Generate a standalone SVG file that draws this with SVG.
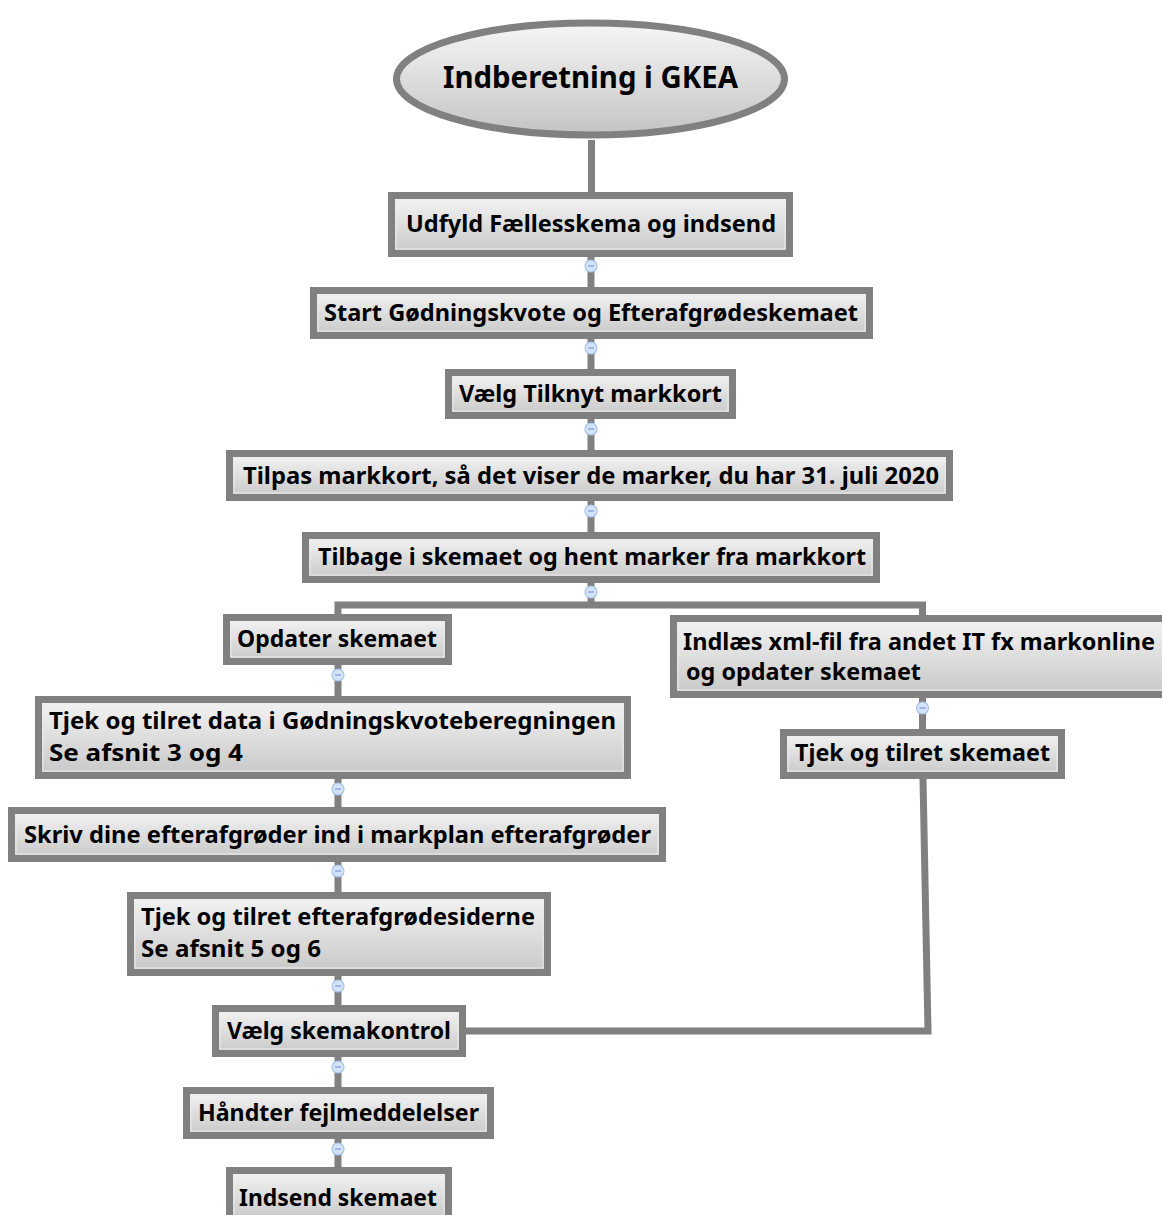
<svg xmlns="http://www.w3.org/2000/svg" width="1162" height="1215" viewBox="0 0 1162 1215">
<defs>
<linearGradient id="g" x1="0" y1="0" x2="0" y2="1">
<stop offset="0" stop-color="#f4f4f4"/>
<stop offset="1" stop-color="#c8c8c8"/>
</linearGradient>
<linearGradient id="ge" x1="0" y1="0" x2="0" y2="1">
<stop offset="0" stop-color="#f6f6f6"/>
<stop offset="1" stop-color="#c4c4c4"/>
</linearGradient>
</defs>
<style>
.box{fill:url(#g);stroke:#808080;stroke-width:7}
.in{fill:none;stroke:#ececec;stroke-width:1}
.t{font-family:"Noto Sans","Open Sans","Liberation Sans",sans-serif;font-weight:bold;font-size:24px;fill:#000}
.c{fill:none;stroke:#808080;stroke-width:7}
.ic{fill:#d3e3fa;stroke:#a9c3ec;stroke-width:1.2}
.icm{stroke:#7f9bd0;stroke-width:1.2}
</style>
<rect width="1162" height="1215" fill="#ffffff"/>
<g id="connectors">
<line class="c" x1="591.5" y1="140" x2="591.5" y2="192"/>
<line class="c" x1="591" y1="257" x2="591" y2="287"/>
<line class="c" x1="591" y1="339" x2="591" y2="369"/>
<line class="c" x1="591" y1="419" x2="591" y2="450"/>
<line class="c" x1="591" y1="501" x2="591" y2="532"/>
<polyline class="c" points="591,583 591,605"/>
<polyline class="c" points="338,614 338,605 922.5,605 922.5,615"/>
<line class="c" x1="338" y1="665" x2="338" y2="696"/>
<line class="c" x1="922.5" y1="698" x2="922.5" y2="729"/>
<line class="c" x1="338" y1="779" x2="338" y2="807"/>
<line class="c" x1="338" y1="862" x2="338" y2="892"/>
<line class="c" x1="338" y1="976" x2="338" y2="1005"/>
<polyline class="c" points="923,779 928,1031 466,1031"/>
<line class="c" x1="338" y1="1057" x2="338" y2="1087"/>
<line class="c" x1="338" y1="1139" x2="338" y2="1167"/>
<g id="icons">
<g><circle class="ic" cx="591" cy="266" r="6"/><line class="icm" x1="588" y1="266" x2="594" y2="266"/></g>
<g><circle class="ic" cx="591" cy="348" r="6"/><line class="icm" x1="588" y1="348" x2="594" y2="348"/></g>
<g><circle class="ic" cx="591" cy="429" r="6"/><line class="icm" x1="588" y1="429" x2="594" y2="429"/></g>
<g><circle class="ic" cx="591" cy="511" r="6"/><line class="icm" x1="588" y1="511" x2="594" y2="511"/></g>
<g><circle class="ic" cx="591" cy="592" r="6"/><line class="icm" x1="588" y1="592" x2="594" y2="592"/></g>
<g><circle class="ic" cx="338" cy="675" r="6"/><line class="icm" x1="335" y1="675" x2="341" y2="675"/></g>
<g><circle class="ic" cx="922.5" cy="708" r="6"/><line class="icm" x1="919.5" y1="708" x2="925.5" y2="708"/></g>
<g><circle class="ic" cx="338" cy="789" r="6"/><line class="icm" x1="335" y1="789" x2="341" y2="789"/></g>
<g><circle class="ic" cx="338" cy="871" r="6"/><line class="icm" x1="335" y1="871" x2="341" y2="871"/></g>
<g><circle class="ic" cx="338" cy="986" r="6"/><line class="icm" x1="335" y1="986" x2="341" y2="986"/></g>
<g><circle class="ic" cx="338" cy="1067" r="6"/><line class="icm" x1="335" y1="1067" x2="341" y2="1067"/></g>
<g><circle class="ic" cx="338" cy="1149" r="6"/><line class="icm" x1="335" y1="1149" x2="341" y2="1149"/></g>
</g>
</g>
<g id="n0">
<ellipse cx="590.5" cy="79" rx="194" ry="56" fill="url(#ge)" stroke="#808080" stroke-width="7"/>
<text class="t" x="443" y="88" style="font-size:30px" textLength="295" lengthAdjust="spacingAndGlyphs">Indberetning i GKEA</text>
</g>
<g id="n1">
<rect class="box" x="391.5" y="195.5" width="398" height="58"/>
<rect class="in" x="396" y="200" width="389" height="49"/>
<text class="t" x="406" y="232" textLength="370" lengthAdjust="spacingAndGlyphs">Udfyld Fællesskema og indsend</text>
</g>
<g id="n2">
<rect class="box" x="313.5" y="290.5" width="556" height="45"/>
<rect class="in" x="318" y="295" width="547" height="36"/>
<text class="t" x="324" y="321" textLength="534" lengthAdjust="spacingAndGlyphs">Start Gødningskvote og Efterafgrødeskemaet</text>
</g>
<g id="n3">
<rect class="box" x="448.5" y="372.5" width="284" height="43"/>
<rect class="in" x="453" y="377" width="275" height="34"/>
<text class="t" x="459" y="402" textLength="263" lengthAdjust="spacingAndGlyphs">Vælg Tilknyt markkort</text>
</g>
<g id="n4">
<rect class="box" x="229.5" y="453.5" width="720" height="44"/>
<rect class="in" x="234" y="458" width="711" height="35"/>
<text class="t" x="243" y="484" textLength="696" lengthAdjust="spacingAndGlyphs">Tilpas markkort, så det viser de marker, du har 31. juli 2020</text>
</g>
<g id="n5">
<rect class="box" x="305.5" y="535.5" width="571" height="44"/>
<rect class="in" x="310" y="540" width="562" height="35"/>
<text class="t" x="318" y="565" textLength="548" lengthAdjust="spacingAndGlyphs">Tilbage i skemaet og hent marker fra markkort</text>
</g>
<g id="n6">
<rect class="box" x="226.5" y="617.5" width="222" height="44"/>
<rect class="in" x="231" y="622" width="213" height="35"/>
<text class="t" x="237" y="647" textLength="200" lengthAdjust="spacingAndGlyphs">Opdater skemaet</text>
</g>
<g id="n7">
<rect class="box" x="673.5" y="618.5" width="494" height="76"/>
<rect class="in" x="678" y="623" width="485" height="67"/>
<text class="t" x="683" y="650" textLength="472" lengthAdjust="spacingAndGlyphs">Indlæs xml-fil fra andet IT fx markonline</text>
<text class="t" x="686" y="680" textLength="235" lengthAdjust="spacingAndGlyphs">og opdater skemaet</text>
</g>
<g id="n8">
<rect class="box" x="783.5" y="732.5" width="278" height="43"/>
<rect class="in" x="788" y="737" width="269" height="34"/>
<text class="t" x="795" y="761" textLength="255" lengthAdjust="spacingAndGlyphs">Tjek og tilret skemaet</text>
</g>
<g id="n9">
<rect class="box" x="38.5" y="699.5" width="589" height="76"/>
<rect class="in" x="43" y="704" width="580" height="67"/>
<text class="t" x="49" y="729" textLength="567" lengthAdjust="spacingAndGlyphs">Tjek og tilret data i Gødningskvoteberegningen</text>
<text class="t" x="49" y="761" textLength="194" lengthAdjust="spacingAndGlyphs">Se afsnit 3 og 4</text>
</g>
<g id="n10">
<rect class="box" x="11.5" y="810.5" width="651" height="48"/>
<rect class="in" x="16" y="815" width="642" height="39"/>
<text class="t" x="24" y="843" textLength="627" lengthAdjust="spacingAndGlyphs">Skriv dine efterafgrøder ind i markplan efterafgrøder</text>
</g>
<g id="n11">
<rect class="box" x="130.5" y="895.5" width="417" height="77"/>
<rect class="in" x="135" y="900" width="408" height="68"/>
<text class="t" x="141" y="925" textLength="394" lengthAdjust="spacingAndGlyphs">Tjek og tilret efterafgrødesiderne</text>
<text class="t" x="141" y="957" textLength="180" lengthAdjust="spacingAndGlyphs">Se afsnit 5 og 6</text>
</g>
<g id="n12">
<rect class="box" x="215.5" y="1008.5" width="247" height="45"/>
<rect class="in" x="220" y="1013" width="238" height="36"/>
<text class="t" x="227" y="1039" textLength="224" lengthAdjust="spacingAndGlyphs">Vælg skemakontrol</text>
</g>
<g id="n13">
<rect class="box" x="186.5" y="1090.5" width="304" height="45"/>
<rect class="in" x="191" y="1095" width="295" height="36"/>
<text class="t" x="198" y="1121" textLength="281" lengthAdjust="spacingAndGlyphs">Håndter fejlmeddelelser</text>
</g>
<g id="n14">
<rect class="box" x="229.5" y="1170.5" width="219" height="50"/>
<rect class="in" x="234" y="1175" width="210" height="41"/>
<text class="t" x="239" y="1206" textLength="198" lengthAdjust="spacingAndGlyphs">Indsend skemaet</text>
</g>
</svg>
